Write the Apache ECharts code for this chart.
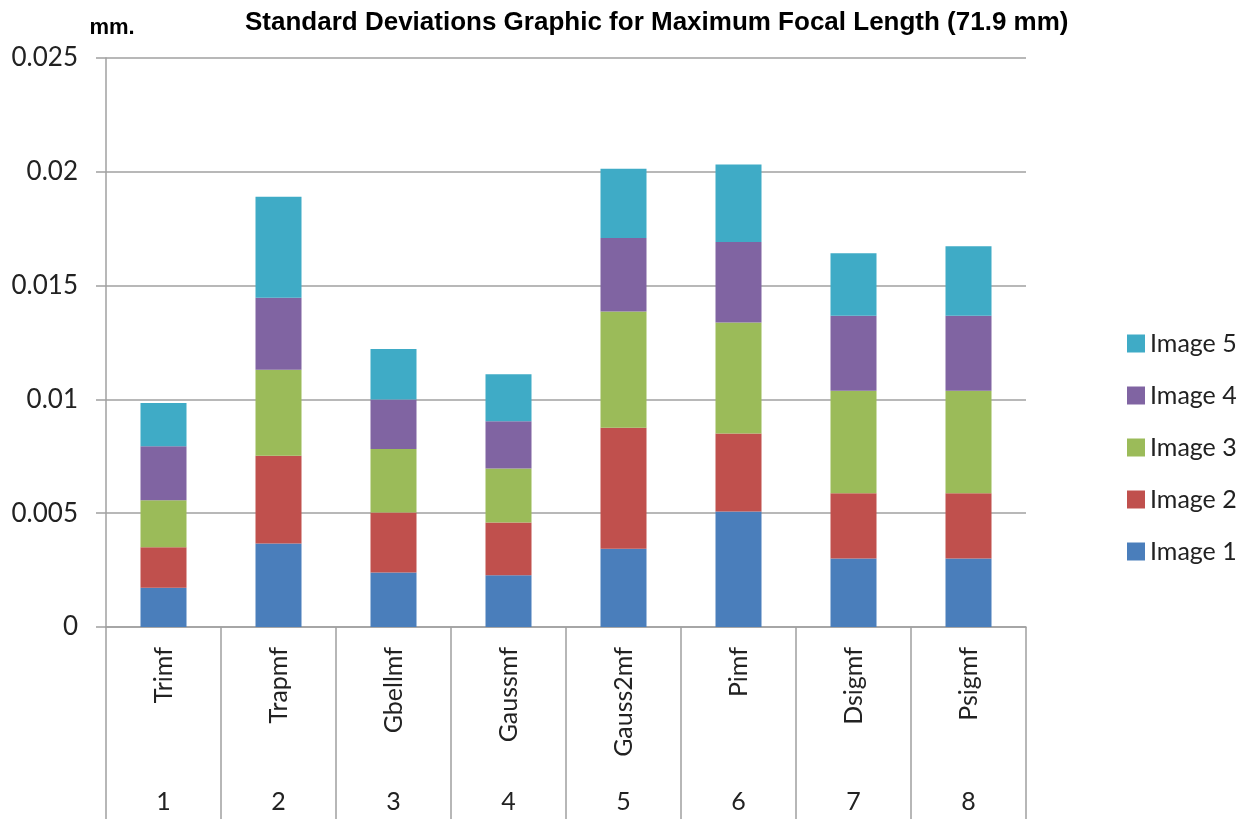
<!DOCTYPE html>
<html>
<head>
<meta charset="utf-8">
<script src="https://cdn.jsdelivr.net/npm/echarts@6/dist/echarts.min.js"></script>
<style>
  html, body { margin: 0; padding: 0; background: #fff; }
  #main { width: 1255px; height: 819px; }
</style>
</head>
<body>
<div id="main"></div>
<script>
// membership functions and their index numbers
var categories = ['Trimf', 'Trapmf', 'Gbellmf', 'Gaussmf', 'Gauss2mf', 'Pimf', 'Dsigmf', 'Psigmf'];
var catNumbers = ['1', '2', '3', '4', '5', '6', '7', '8'];

// standard deviation per image (mm)
var image1 = [0.00173, 0.00367, 0.00240, 0.00227, 0.00344, 0.00507, 0.00301, 0.00301];
var image2 = [0.00177, 0.00385, 0.00263, 0.00232, 0.00531, 0.00343, 0.00287, 0.00287];
var image3 = [0.00207, 0.00378, 0.00279, 0.00237, 0.00511, 0.00488, 0.00450, 0.00450];
var image4 = [0.00237, 0.00317, 0.00218, 0.00208, 0.00323, 0.00354, 0.00329, 0.00329];
var image5 = [0.00190, 0.00443, 0.00221, 0.00207, 0.00304, 0.00340, 0.00275, 0.00306];

var yTicks = ['0', '0.005', '0.01', '0.015', '0.02', '0.025'];

var chart = echarts.init(document.getElementById('main'));
var labelFont = 'Lato, "Open Sans", sans-serif';
var grey = '#a0a0a0';

function makeSeries(name, data, color) {
  return {
    name: name,
    type: 'bar',
    stack: 'total',
    barWidth: '40%',
    data: data,
    itemStyle: { color: color }
  };
}

var option = {
  animation: false,
  title: {
    text: 'Standard Deviations Graphic for Maximum Focal Length (71.9 mm)',
    left: 240,
    top: 5,
    textStyle: {
      fontFamily: '"Liberation Sans", Arial, sans-serif',
      fontWeight: 'bold',
      fontSize: 26,
      color: '#000'
    }
  },
  legend: {
    orient: 'vertical',
    left: 1122,
    top: 326,
    itemWidth: 18,
    itemHeight: 18,
    itemGap: 27,
    icon: 'rect',
    data: ['Image 5', 'Image 4', 'Image 3', 'Image 2', 'Image 1'],
    textStyle: { fontFamily: labelFont, fontSize: 25, color: '#222', padding: [0, 0, 0, 0] }
  },
  grid: {
    left: 106,
    right: 229,
    top: 58,
    bottom: 192
  },
  xAxis: [
    {
      type: 'category',
      data: categories,
      axisLine: { lineStyle: { color: grey, width: 1.5 } },
      axisTick: { show: true, length: 192, lineStyle: { color: grey, width: 1.5 } },
      axisLabel: {
        rotate: 90,
        margin: 20,
        fontFamily: labelFont,
        fontSize: 25,
        color: '#222'
      }
    },
    {
      type: 'category',
      data: catNumbers,
      position: 'bottom',
      offset: 154,
      axisLine: { show: false },
      axisTick: { show: false },
      axisLabel: { fontFamily: labelFont, fontSize: 25, color: '#222' }
    }
  ],
  yAxis: {
    type: 'value',
    min: 0,
    max: 0.025,
    interval: 0.005,
    name: 'mm.',
    nameLocation: 'end',
    nameGap: 19,
    nameTextStyle: {
      fontFamily: '"Liberation Sans", Arial, sans-serif',
      fontWeight: 'bold',
      fontSize: 22,
      color: '#000',
      padding: [0, 0, 0, 12]
    },
    axisLine: { show: true, lineStyle: { color: grey, width: 1.5 } },
    axisTick: { show: true, length: 10, lineStyle: { color: grey, width: 1.5 } },
    splitLine: { lineStyle: { color: grey, width: 1.5 } },
    axisLabel: {
      margin: 28,
      fontFamily: labelFont,
      fontSize: 26,
      color: '#222',
      formatter: function (v, i) { return yTicks[i]; }
    }
  },
  series: [
    makeSeries('Image 1', image1, '#4a7ebb'),
    makeSeries('Image 2', image2, '#c0504d'),
    makeSeries('Image 3', image3, '#9bbb59'),
    makeSeries('Image 4', image4, '#8064a2'),
    makeSeries('Image 5', image5, '#3fabc6')
  ]
};

chart.setOption(option);
</script>
</body>
</html>
